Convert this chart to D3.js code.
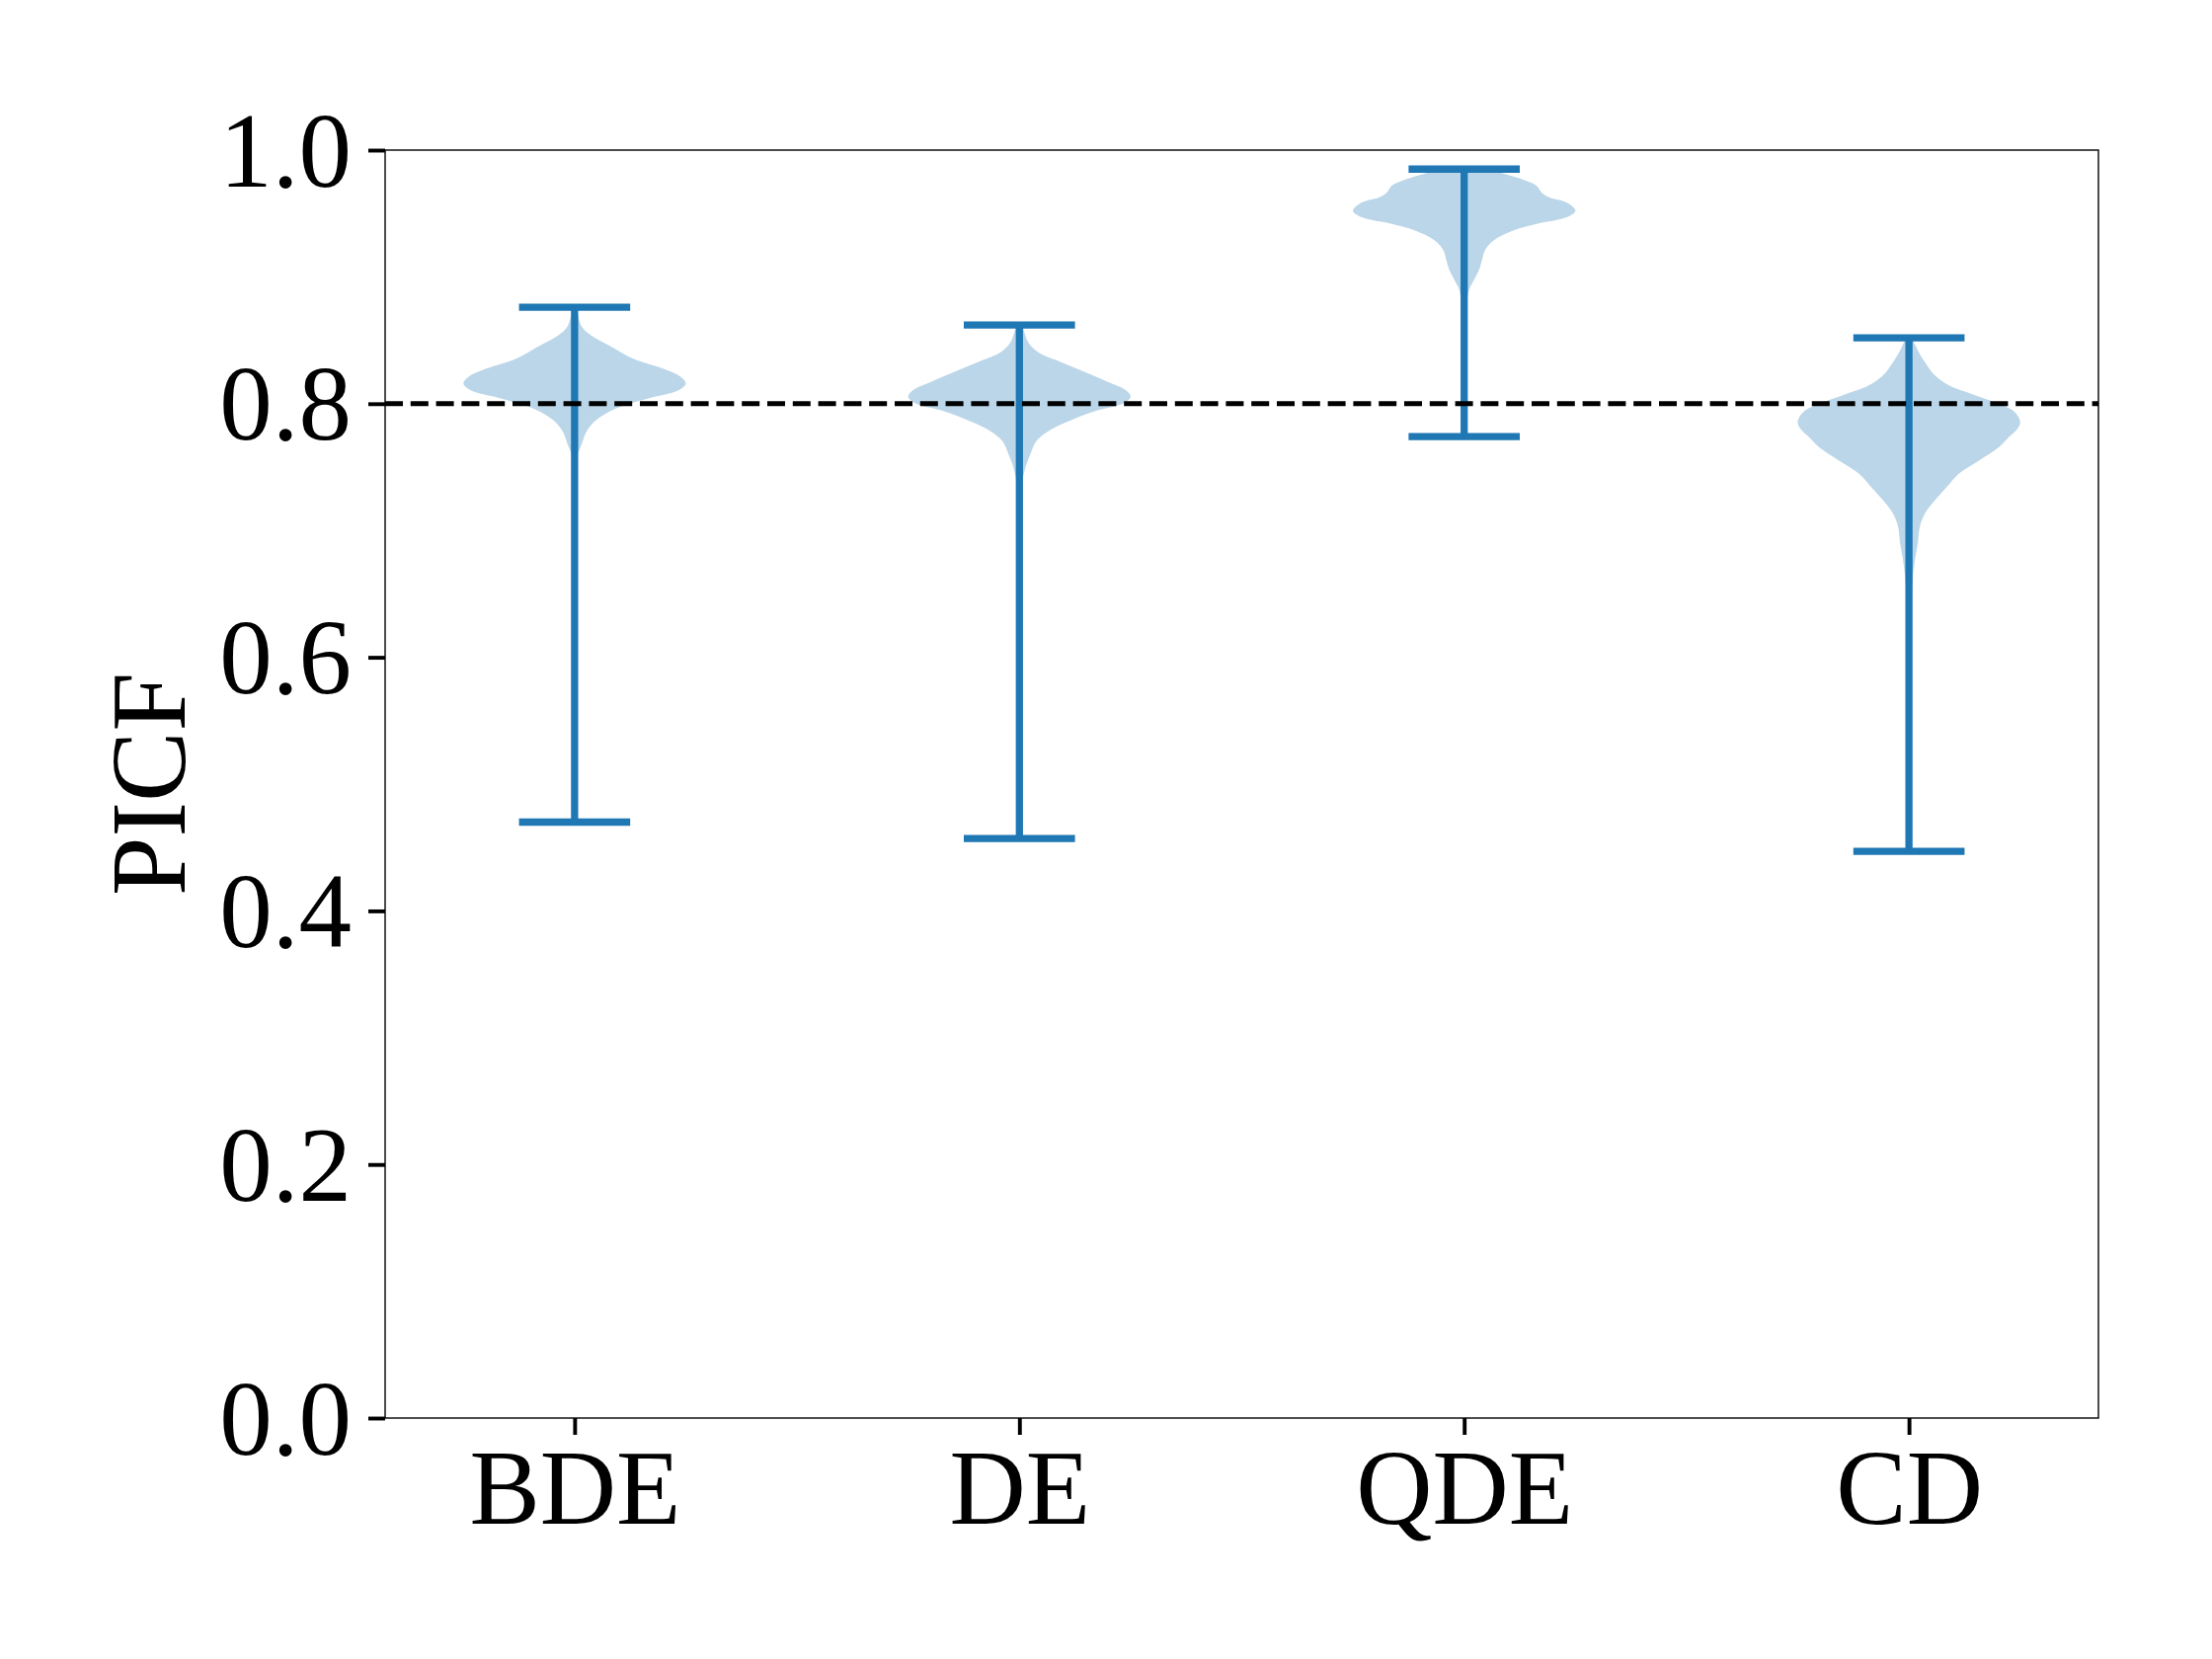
<!DOCTYPE html>
<html>
<head>
<meta charset="utf-8">
<script src="https://cdnjs.cloudflare.com/ajax/libs/d3/7.8.5/d3.min.js"></script>
<style>
  body { margin: 0; background: #fff; }
  text { font-family: "Liberation Serif", "DejaVu Serif", serif; fill: #000; }
</style>
</head>
<body>
<div id="chart"></div>
<script>
// categories and summary values
var categories = ["BDE", "DE", "QDE", "CD"];
var positions = [1, 2, 3, 4];
var mins = [0.470, 0.457, 0.774, 0.447];
var maxs = [0.876, 0.862, 0.985, 0.852];
var yTicks = [0, 0.2, 0.4, 0.6, 0.8, 1.0];
var threshold = 0.8;

// violin outlines: value and relative half width (1 = widest)
var bdeValues = [0.876, 0.861, 0.8536, 0.8458, 0.8354, 0.8276, 0.8211, 0.816, 0.8107, 0.8043, 0.799, 0.7938, 0.786, 0.778, 0.768, 0.7575, 0.747, 0.72, 0.6, 0.47];
var bdeWidths = [0.02, 0.063, 0.152, 0.313, 0.527, 0.795, 0.955, 1, 0.938, 0.67, 0.464, 0.313, 0.179, 0.107, 0.063, 0.018, 0.005, 0.002, 0, 0];

var deValues = [0.862, 0.8588, 0.8484, 0.8406, 0.8328, 0.825, 0.8172, 0.8107, 0.8055, 0.8004, 0.7938, 0.786, 0.7783, 0.7705, 0.7601, 0.7498, 0.7393, 0.729, 0.70, 0.6, 0.457];
var deWidths = [0.02, 0.036, 0.08, 0.17, 0.375, 0.589, 0.795, 0.955, 1, 0.938, 0.67, 0.438, 0.259, 0.152, 0.098, 0.054, 0.027, 0.005, 0.002, 0, 0];

var qdeValues = [0.985, 0.9839, 0.982, 0.9756, 0.9717, 0.9665, 0.9626, 0.9587, 0.9522, 0.947, 0.9418, 0.9367, 0.9289, 0.9211, 0.9133, 0.9055, 0.8977, 0.89, 0.8821, 0.8717, 0.85, 0.774];
var qdeWidths = [0.2, 0.25, 0.33, 0.563, 0.652, 0.696, 0.768, 0.92, 1, 0.92, 0.652, 0.446, 0.268, 0.188, 0.161, 0.134, 0.089, 0.045, 0.027, 0.005, 0.001, 0];

var cdValues = [0.852, 0.8484, 0.8406, 0.8328, 0.8224, 0.8146, 0.8069, 0.7991, 0.7939, 0.7861, 0.7809, 0.7731, 0.7653, 0.7549, 0.7445, 0.7342, 0.7238, 0.7134, 0.703, 0.69, 0.677, 0.664, 0.638, 0.612, 0.55, 0.447];
var cdWidths = [0.02, 0.045, 0.089, 0.143, 0.232, 0.357, 0.589, 0.83, 0.946, 1, 0.982, 0.893, 0.804, 0.625, 0.446, 0.339, 0.232, 0.143, 0.098, 0.08, 0.054, 0.036, 0.018, 0.009, 0.003, 0];

var violinValues = [bdeValues, deValues, qdeValues, cdValues];
var violinWidths = [bdeWidths, deWidths, qdeWidths, cdWidths];

var blue = "#1f77b4";

var svgWidth = 2240;
var svgHeight = 1680;

var margin = {
  top: 152,
  right: 115,
  bottom: 244,
  left: 390
};

var width = svgWidth - margin.left - margin.right;
var height = svgHeight - margin.top - margin.bottom;

var svg = d3.select("#chart")
  .append("svg")
  .attr("width", svgWidth)
  .attr("height", svgHeight);

var chartGroup = svg.append("g")
  .attr("transform", `translate(${margin.left}, ${margin.top})`);

// scales
var xScale = d3.scaleLinear()
  .domain([0.574, 4.426])
  .range([0, width]);

var yScale = d3.scaleLinear()
  .domain([0, 1])
  .range([height, 0]);

// violin bodies, widest half width is 0.25 in x units
categories.forEach(function(c, i) {
  var pts = violinValues[i].map(function(v, j) {
    return { v: v, w: violinWidths[i][j] };
  });
  var area = d3.area()
    .y(d => yScale(d.v))
    .x0(d => xScale(positions[i] - 0.25 * d.w))
    .x1(d => xScale(positions[i] + 0.25 * d.w))
    .curve(d3.curveCatmullRom);
  chartGroup.append("path")
    .datum(pts)
    .attr("d", area)
    .attr("fill", blue)
    .attr("fill-opacity", 0.3)
    .attr("stroke", "none");
});

// stems and caps
var lines = chartGroup.append("g")
  .attr("stroke", blue)
  .attr("stroke-width", 7.3);

lines.selectAll(".stem")
  .data(positions)
  .enter()
  .append("line")
  .attr("x1", d => xScale(d))
  .attr("x2", d => xScale(d))
  .attr("y1", (d, i) => yScale(mins[i]))
  .attr("y2", (d, i) => yScale(maxs[i]));

lines.selectAll(".capTop")
  .data(positions)
  .enter()
  .append("line")
  .attr("x1", d => xScale(d - 0.125))
  .attr("x2", d => xScale(d + 0.125))
  .attr("y1", (d, i) => yScale(maxs[i]))
  .attr("y2", (d, i) => yScale(maxs[i]));

lines.selectAll(".capBottom")
  .data(positions)
  .enter()
  .append("line")
  .attr("x1", d => xScale(d - 0.125))
  .attr("x2", d => xScale(d + 0.125))
  .attr("y1", (d, i) => yScale(mins[i]))
  .attr("y2", (d, i) => yScale(mins[i]));

// dashed threshold line
chartGroup.append("line")
  .attr("x1", 0)
  .attr("x2", width)
  .attr("y1", yScale(threshold))
  .attr("y2", yScale(threshold))
  .attr("stroke", "#000")
  .attr("stroke-width", 4.9)
  .attr("stroke-dasharray", "18 7.8");

// axes
var leftAxis = d3.axisLeft(yScale)
  .tickValues(yTicks)
  .tickFormat(d3.format(".1f"))
  .tickSize(17)
  .tickPadding(17);

var bottomAxis = d3.axisBottom(xScale)
  .tickValues(positions)
  .tickFormat((d, i) => categories[i])
  .tickSize(17)
  .tickPadding(17);

var yAxis = chartGroup.append("g").call(leftAxis);
var xAxis = chartGroup.append("g")
  .attr("transform", `translate(0, ${height})`)
  .call(bottomAxis);

[xAxis, yAxis].forEach(function(ax) {
  ax.select(".domain").remove();
  ax.selectAll(".tick line").attr("stroke", "#000").attr("stroke-width", 3.9);
  ax.selectAll(".tick text")
    .attr("font-family", "Liberation Serif")
    .attr("font-size", 107)
    .attr("fill", "#000");
});

yAxis.selectAll(".tick text")
  .attr("dy", null)
  .attr("y", 36);

xAxis.selectAll(".tick text")
  .attr("dy", null)
  .attr("y", 107);

// frame
chartGroup.append("rect")
  .attr("x", 0)
  .attr("y", 0)
  .attr("width", width)
  .attr("height", height)
  .attr("fill", "none")
  .attr("stroke", "#000")
  .attr("stroke-width", 1.4);

// y label
svg.append("text")
  .attr("transform", `translate(187, ${margin.top + height / 2}) rotate(-90)`)
  .attr("text-anchor", "middle")
  .attr("font-size", 107)
  .text("PICF");
</script>
</body>
</html>
